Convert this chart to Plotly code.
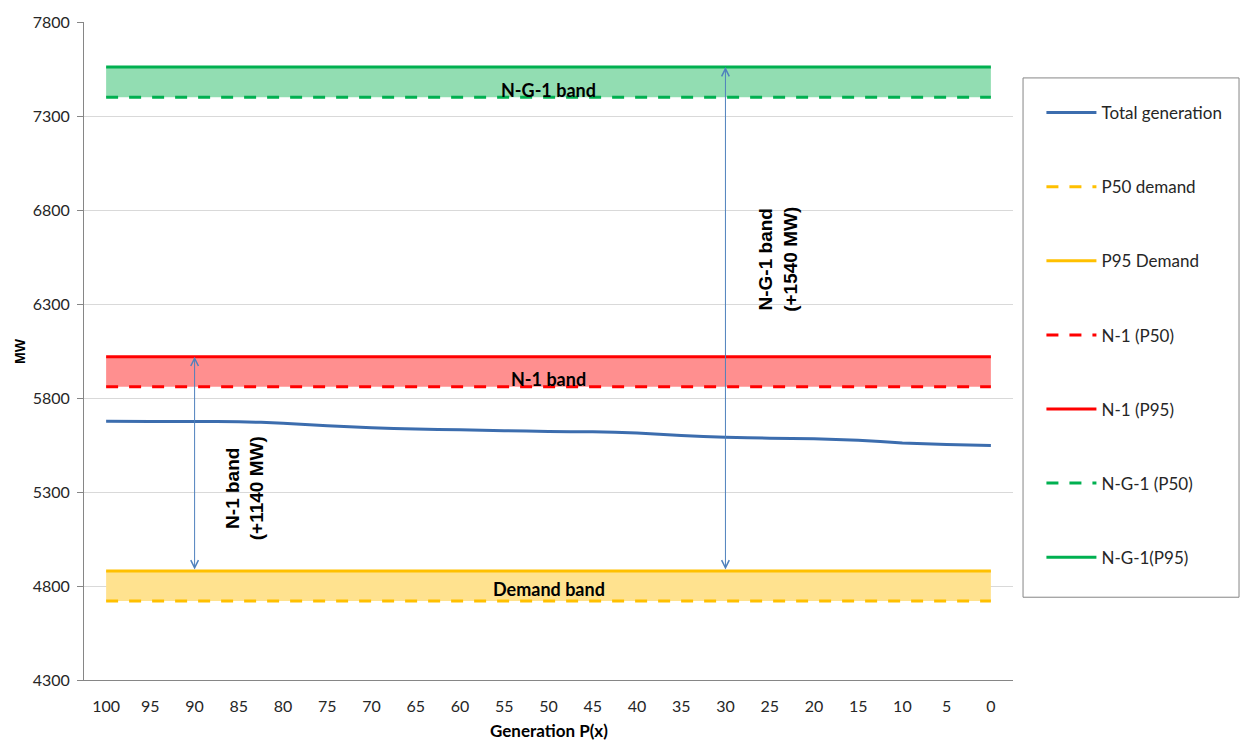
import plotly.graph_objects as go

# Generation percentile levels (x axis, drawn from 100 down to 0)
p_levels = [100, 95, 90, 85, 80, 75, 70, 65, 60, 55, 50, 45, 40, 35, 30, 25, 20, 15, 10, 5, 0]

# Total available generation at each percentile (MW)
total_generation = [5676, 5675, 5675, 5674, 5666, 5652, 5642, 5635, 5631, 5626, 5622,
                    5620, 5614, 5601, 5591, 5586, 5583, 5575, 5561, 5553, 5548]

# Demand and security requirement levels (MW)
p50_demand = [4720, 4720, 4720, 4720, 4720, 4720, 4720, 4720, 4720, 4720, 4720,
              4720, 4720, 4720, 4720, 4720, 4720, 4720, 4720, 4720, 4720]
p95_demand = [4880, 4880, 4880, 4880, 4880, 4880, 4880, 4880, 4880, 4880, 4880,
              4880, 4880, 4880, 4880, 4880, 4880, 4880, 4880, 4880, 4880]
n1_p50 = [5860, 5860, 5860, 5860, 5860, 5860, 5860, 5860, 5860, 5860, 5860,
          5860, 5860, 5860, 5860, 5860, 5860, 5860, 5860, 5860, 5860]
n1_p95 = [6020, 6020, 6020, 6020, 6020, 6020, 6020, 6020, 6020, 6020, 6020,
          6020, 6020, 6020, 6020, 6020, 6020, 6020, 6020, 6020, 6020]
ng1_p50 = [7400, 7400, 7400, 7400, 7400, 7400, 7400, 7400, 7400, 7400, 7400,
           7400, 7400, 7400, 7400, 7400, 7400, 7400, 7400, 7400, 7400]
ng1_p95 = [7560, 7560, 7560, 7560, 7560, 7560, 7560, 7560, 7560, 7560, 7560,
           7560, 7560, 7560, 7560, 7560, 7560, 7560, 7560, 7560, 7560]

y_ticks = [4300, 4800, 5300, 5800, 6300, 6800, 7300, 7800]

# Margin increments shown by the arrows
n1_increment = 1140
ng1_increment = 1540

BODY_FONT = "Lato, 'Liberation Sans', sans-serif"
BOLD_FONT = "'Liberation Sans', Arial, sans-serif"
TEXT_COLOR = "#262626"

BLUE = "#3C6DAE"
ARROW_BLUE = "#4F81BD"
YELLOW = "#FFC000"
RED = "#FF0000"
GREEN = "#00B050"

fig = go.Figure()

# Shaded bands between the P50 and P95 levels
bands = [
    (p50_demand, p95_demand, "rgb(255,226,143)"),
    (n1_p50, n1_p95, "rgb(255,143,143)"),
    (ng1_p50, ng1_p95, "rgb(146,221,178)"),
]
for low, high, fill in bands:
    fig.add_trace(go.Scatter(x=p_levels, y=low, mode="lines", line=dict(width=0),
                             showlegend=False, hoverinfo="skip"))
    fig.add_trace(go.Scatter(x=p_levels, y=high, mode="lines", line=dict(width=0),
                             fill="tonexty", fillcolor=fill,
                             showlegend=False, hoverinfo="skip"))

DASH = "12px,11px"
series = [
    ("Total generation", total_generation, BLUE, "solid"),
    ("P50 demand", p50_demand, YELLOW, DASH),
    ("P95 Demand", p95_demand, YELLOW, "solid"),
    ("N-1 (P50)", n1_p50, RED, DASH),
    ("N-1 (P95)", n1_p95, RED, "solid"),
    ("N-G-1 (P50)", ng1_p50, GREEN, DASH),
    ("N-G-1(P95)", ng1_p95, GREEN, "solid"),
]
for name, values, color, dash in series:
    fig.add_trace(go.Scatter(
        x=p_levels, y=values, name=name, mode="lines",
        line=dict(color=color, width=3, dash=dash,
                  shape="spline" if name == "Total generation" else "linear",
                  smoothing=0.6),
        legendgroup=name,
    ))

annotations = []

# Band labels
band_labels = [
    ("N-G-1 band", ng1_p50[10], ng1_p95[10], 40),
    ("N-1 band", n1_p50[10], n1_p95[10], 40),
    ("Demand band", p50_demand[10], p95_demand[10], 15),
]
for text, low, high, drop in band_labels:
    annotations.append(dict(
        x=50, y=(low + high) / 2 - drop, xref="x", yref="y", text=text, showarrow=False,
        font=dict(family=BODY_FONT, size=18, color="#000000", weight="bold"),
    ))

# Double-headed arrows from P95 demand up to the security levels
arrow_specs = [
    (90, p95_demand[2], n1_p95[2]),
    (30, p95_demand[14], ng1_p95[14]),
]
for xv, y_low, y_high in arrow_specs:
    annotations.append(dict(
        x=xv, y=y_high, ax=xv, ay=y_low, xref="x", yref="y", axref="x", ayref="y",
        text="", showarrow=True, arrowhead=5, startarrowhead=5, arrowside="end+start",
        arrowsize=1.5, startarrowsize=1.5, arrowwidth=1, arrowcolor=ARROW_BLUE,
        standoff=0, startstandoff=0,
    ))

# Rotated arrow captions
annotations.append(dict(
    x=84.3, y=5320, xref="x", yref="y", textangle=-90, showarrow=False,
    text=f"N-1 band<br>(+{n1_increment} MW)",
    font=dict(family=BOLD_FONT, size=19, color="#000000", weight="bold"),
))
annotations.append(dict(
    x=24.0, y=6538, xref="x", yref="y", textangle=-90, showarrow=False,
    text=f"N-G-1 band<br>(+{ng1_increment} MW)",
    font=dict(family=BOLD_FONT, size=19, color="#000000", weight="bold"),
))

# Axis titles
annotations.append(dict(
    x=-0.069, y=0.5, xref="paper", yref="paper", text="MW", textangle=-90,
    xanchor="center", yanchor="middle",
    showarrow=False, font=dict(family=BOLD_FONT, size=14, color="#000000", weight="bold"),
))
annotations.append(dict(
    x=0.5, y=-0.077, xref="paper", yref="paper", text="Generation P(x)",
    showarrow=False, yanchor="middle",
    font=dict(family=BODY_FONT, size=17, color="#000000", weight="bold"),
))

fig.update_layout(
    width=1241, height=740,
    margin=dict(l=84, r=228, t=20, b=60),
    plot_bgcolor="white", paper_bgcolor="white",
    font=dict(family=BODY_FONT, size=16, color=TEXT_COLOR),
    annotations=annotations,
    showlegend=True,
    legend=dict(
        x=1.0306, y=0.889, xanchor="left", yanchor="top",
        bgcolor="rgba(0,0,0,0)", borderwidth=0,
        font=dict(family=BODY_FONT, size=17, color=TEXT_COLOR),
        tracegroupgap=49, itemwidth=50,
    ),
    shapes=[dict(
        type="rect", xref="paper", yref="paper",
        x0=1.0108, x1=1.2433, y0=0.1258, y1=0.915,
        line=dict(color="#868686", width=1), fillcolor="rgba(0,0,0,0)",
    )],
)

fig.update_xaxes(
    range=[102.5, -2.5], tickmode="array", tickvals=p_levels,
    ticktext=[str(v) for v in p_levels],
    showgrid=False, zeroline=False, showline=True, linecolor="#868686", linewidth=1,
    ticks="", ticklabelstandoff=12,
    tickfont=dict(family=BODY_FONT, size=16, color=TEXT_COLOR),
)
fig.update_yaxes(
    range=[4300, 7800], tickmode="array", tickvals=y_ticks,
    showgrid=True, gridcolor="#D9D9D9", gridwidth=1, zeroline=False,
    showline=True, linecolor="#868686", linewidth=1,
    ticks="outside", ticklen=6, tickcolor="#868686", ticklabelstandoff=4,
    tickfont=dict(family=BODY_FONT, size=16, color=TEXT_COLOR),
)

fig.write_html("out.html")
